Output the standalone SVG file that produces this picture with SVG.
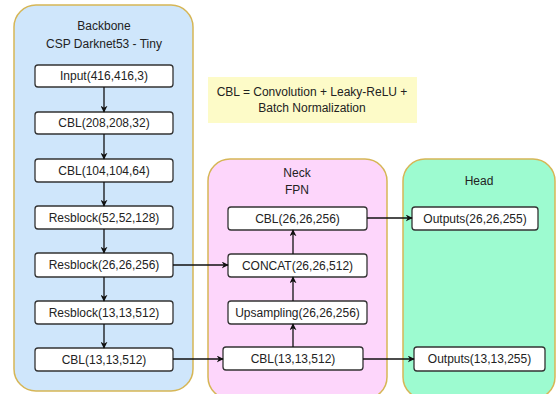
<svg xmlns="http://www.w3.org/2000/svg" width="557" height="394" viewBox="0 0 557 394">
<defs>
<style>
text{font-family:"Liberation Sans",Arial,sans-serif;font-size:12px;fill:#222;text-anchor:middle;dominant-baseline:central}
.node{fill:#fff;stroke:#333;stroke-width:1.3}
.cont{stroke:#d6b656;stroke-width:1.5}
.edge{stroke:#111;stroke-width:1.3;fill:none;marker-end:url(#ah)}
</style>
<marker id="ah" viewBox="0 0 10 10" refX="9" refY="5" markerWidth="7" markerHeight="7" markerUnits="userSpaceOnUse" orient="auto"><path d="M0,0 L10,5 L0,10 L3,5 Z" fill="#111"/></marker>
</defs>
<rect width="557" height="394" fill="#fff"/>
<g id="backbone">
<rect class="cont" x="14" y="5" width="179" height="386" rx="22" fill="#cfe6fb"/>
<text x="104" y="26">Backbone</text>
<text x="104" y="44">CSP Darknet53 - Tiny</text>
</g>
<g id="neck">
<rect class="cont" x="208" y="159" width="179" height="240" rx="22" fill="#fdd6fb"/>
<text x="297" y="173">Neck</text>
<text x="297" y="190">FPN</text>
</g>
<g id="head">
<rect class="cont" x="403" y="159" width="152" height="240" rx="22" fill="#9dfbd0"/>
<text x="479" y="181">Head</text>
</g>
<g id="note">
<rect x="208" y="77" width="209" height="46" fill="#fdfbc8"/>
<text x="312" y="92">CBL = Convolution + Leaky-ReLU +</text>
<text x="312" y="108">Batch Normalization</text>
</g>
<g id="input"><rect class="node" x="35" y="65" width="138" height="22" rx="3"/><text x="104" y="76">Input(416,416,3)</text></g>
<g id="cbl208"><rect class="node" x="35" y="112" width="138" height="22" rx="3"/><text x="104" y="123">CBL(208,208,32)</text></g>
<g id="cbl104"><rect class="node" x="35" y="159" width="138" height="23" rx="3"/><text x="104" y="170.5">CBL(104,104,64)</text></g>
<g id="res52"><rect class="node" x="35" y="206" width="138" height="23" rx="3"/><text x="104" y="217.5">Resblock(52,52,128)</text></g>
<g id="res26"><rect class="node" x="35" y="253" width="138" height="24" rx="3"/><text x="104" y="265">Resblock(26,26,256)</text></g>
<g id="res13"><rect class="node" x="35" y="301" width="138" height="23" rx="3"/><text x="104" y="312.5">Resblock(13,13,512)</text></g>
<g id="cbl13b"><rect class="node" x="35" y="348" width="138" height="23" rx="3"/><text x="104" y="359.5">CBL(13,13,512)</text></g>
<g id="cbl26n"><rect class="node" x="228" y="207" width="139" height="23" rx="3"/><text x="297.5" y="218.5">CBL(26,26,256)</text></g>
<g id="concat"><rect class="node" x="228" y="254" width="139" height="23" rx="3"/><text x="297.5" y="265.5">CONCAT(26,26,512)</text></g>
<g id="upsampling"><rect class="node" x="228" y="301" width="139" height="23" rx="3"/><text x="297.5" y="312.5">Upsampling(26,26,256)</text></g>
<g id="cbl13n"><rect class="node" x="223" y="347" width="140" height="23" rx="3"/><text x="293" y="358.5">CBL(13,13,512)</text></g>
<g id="out26"><rect class="node" x="412" y="207" width="126" height="23" rx="3"/><text x="475" y="218.5">Outputs(26,26,255)</text></g>
<g id="out13"><rect class="node" x="414" y="347" width="131" height="24" rx="3"/><text x="479.5" y="359">Outputs(13,13,255)</text></g>
<g id="connectors">
<path class="edge" d="M104,87 V112"/>
<path class="edge" d="M104,134 V159"/>
<path class="edge" d="M104,182 V206"/>
<path class="edge" d="M104,229 V253"/>
<path class="edge" d="M104,277 V301"/>
<path class="edge" d="M104,324 V348"/>
<path class="edge" d="M173,265 H228"/>
<path class="edge" d="M173,359 H223"/>
<path class="edge" d="M293,347 V324"/>
<path class="edge" d="M293,301 V277"/>
<path class="edge" d="M293,254 V230"/>
<path class="edge" d="M367,218 H412"/>
<path class="edge" d="M363,359 H414"/>
</g>
</svg>
